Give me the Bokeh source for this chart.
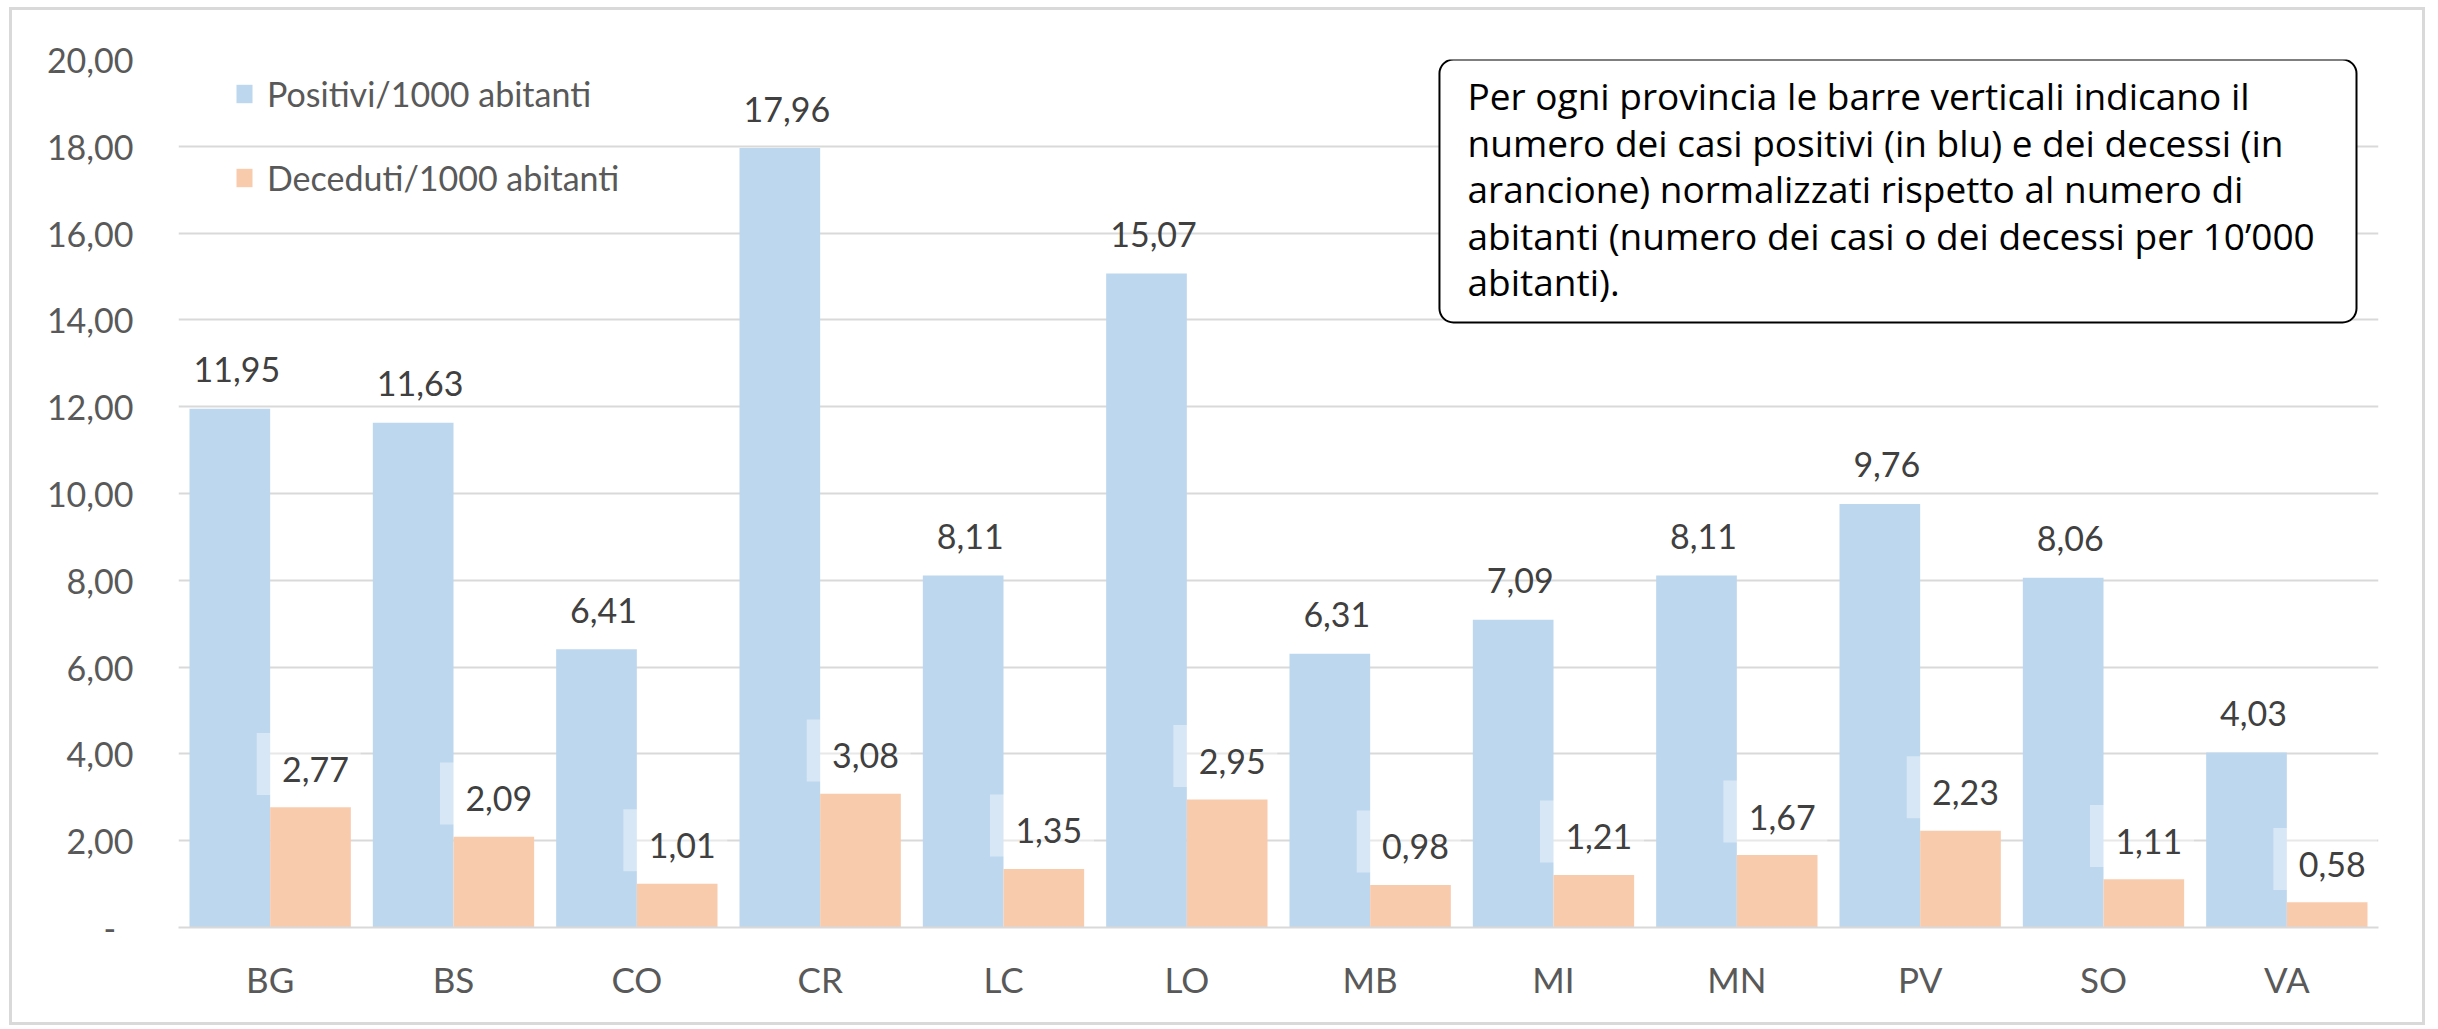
from bokeh.plotting import figure
from bokeh.models import FactorRange, Range1d, FixedTicker, BoxAnnotation, Label, ColumnDataSource
from bokeh.transform import dodge
from bokeh.core.properties import value
from bokeh.embed import file_html
from bokeh.resources import INLINE

# ---- data ----
province = ["BG", "BS", "CO", "CR", "LC", "LO", "MB", "MI", "MN", "PV", "SO", "VA"]
positivi = [11.95, 11.63, 6.41, 17.96, 8.11, 15.07, 6.31, 7.09, 8.11, 9.76, 8.06, 4.03]
deceduti = [2.77, 2.09, 1.01, 3.08, 1.35, 2.95, 0.98, 1.21, 1.67, 2.23, 1.11, 0.58]
y_ticks = [0, 2, 4, 6, 8, 10, 12, 14, 16, 18, 20]
y_tick_labels = ["-\u00a0\u00a0", "2,00", "4,00", "6,00", "8,00", "10,00", "12,00",
                 "14,00", "16,00", "18,00", "20,00"]
serie_pos = "Positivi/1000 abitanti"
serie_dec = "Deceduti/1000 abitanti"
nota = ("Per ogni provincia le barre verticali indicano il\n"
        "numero dei casi positivi (in blu) e dei decessi (in\n"
        "arancione) normalizzati rispetto al numero di\n"
        "abitanti (numero dei casi o dei decessi per 10\u2019000\n"
        "abitanti).")


def fmt(v):
    return f"{v:.2f}".replace(".", ",")


src = ColumnDataSource(dict(
    cat=province,
    pos=positivi,
    dec=deceduti,
    pos_lbl=[fmt(v) for v in positivi],
    dec_lbl=[fmt(v) for v in deceduti],
    dec_box=[v + 1.0 for v in deceduti],
))

BLUE = "#bdd7ee"
ORANGE = "#f8cbad"
GRID = "#d9d9d9"
AXTXT = "#595959"
LBLTXT = "#404040"
FONT = "Lato"

p = figure(
    x_range=FactorRange(factors=province, range_padding=0, factor_padding=0),
    y_range=Range1d(0, 20),
    frame_width=2200, frame_height=868,
    min_border_left=166, min_border_right=44, min_border_top=49, min_border_bottom=95,
    output_backend="svg", toolbar_location=None,
)
p.styles = {"border": "3px solid #d9d9d9", "margin-left": "9px", "margin-top": "7px"}
p.outline_line_color = None
p.background_fill_color = "white"
p.border_fill_color = "white"

# grid
p.xgrid.grid_line_color = None
p.ygrid.ticker = FixedTicker(ticks=y_ticks)
p.ygrid.grid_line_color = GRID
p.ygrid.grid_line_width = 2

# y axis
p.yaxis.ticker = FixedTicker(ticks=y_ticks)
p.yaxis.major_label_overrides = {t: l for t, l in zip(y_ticks, y_tick_labels)}
p.yaxis.axis_line_color = None
p.yaxis.major_tick_line_color = None
p.yaxis.minor_tick_line_color = None
p.yaxis.major_tick_out = 0
p.yaxis.major_tick_in = 0
p.yaxis.major_label_standoff = 45
p.yaxis.major_label_text_font = FONT
p.yaxis.major_label_text_font_size = "34px"
p.yaxis.major_label_text_color = AXTXT

# x axis
p.xaxis.axis_line_color = GRID
p.xaxis.axis_line_width = 2
p.xaxis.major_tick_line_color = None
p.xaxis.major_tick_out = 0
p.xaxis.major_tick_in = 0
p.xaxis.major_label_standoff = 30
p.xaxis.major_label_text_font = FONT
p.xaxis.major_label_text_font_size = "35px"
p.xaxis.major_label_text_color = AXTXT

# bars
p.vbar(x=dodge("cat", -0.22, range=p.x_range), top="pos", width=0.44, source=src,
       fill_color=BLUE, line_color=None, legend_label=serie_pos)
p.vbar(x=dodge("cat", 0.22, range=p.x_range), top="dec", width=0.44, source=src,
       fill_color=ORANGE, line_color=None, legend_label=serie_dec)

# label boxes for the death labels (semi transparent white)
p.rect(x=dodge("cat", 0.21, range=p.x_range), y="dec_box", width=104, height=62,
       width_units="screen", height_units="screen", source=src,
       fill_color="white", fill_alpha=0.4, line_color=None)

# data labels
p.text(x=dodge("cat", -0.22, range=p.x_range), y="pos", text="pos_lbl", source=src,
       x_offset=7, y_offset=-39, text_align="center", text_baseline="middle",
       text_font=value(FONT), text_font_size="34px", text_color=LBLTXT)
p.text(x=dodge("cat", 0.22, range=p.x_range), y="dec", text="dec_lbl", source=src,
       x_offset=5, y_offset=-38, text_align="center", text_baseline="middle",
       text_font=value(FONT), text_font_size="34px", text_color=LBLTXT)

# legend
lg = p.legend[0]
lg.location = (56, 729)
lg.border_line_color = None
lg.background_fill_alpha = 0
lg.padding = 0
lg.margin = 0
lg.spacing = 43
lg.label_height = 40
lg.glyph_height = 23
lg.glyph_width = 20
lg.label_standoff = 13
lg.label_text_font = FONT
lg.label_text_font_size = "34px"
lg.label_text_color = AXTXT

# annotation box
box = BoxAnnotation(left=6.878, right=11.88, top=20.0, bottom=13.94,
                    fill_color="white", fill_alpha=1.0, line_color="black",
                    line_alpha=1.0, line_width=2, border_radius=14)
p.add_layout(box)
note = Label(x=7.031, y=19.76, text=nota, text_align="left", text_baseline="top",
             text_font="Open Sans", text_font_size="37px", text_line_height=0.914,
             text_color="black")
p.add_layout(note)

open("out.html", "w").write(file_html(p, INLINE))
